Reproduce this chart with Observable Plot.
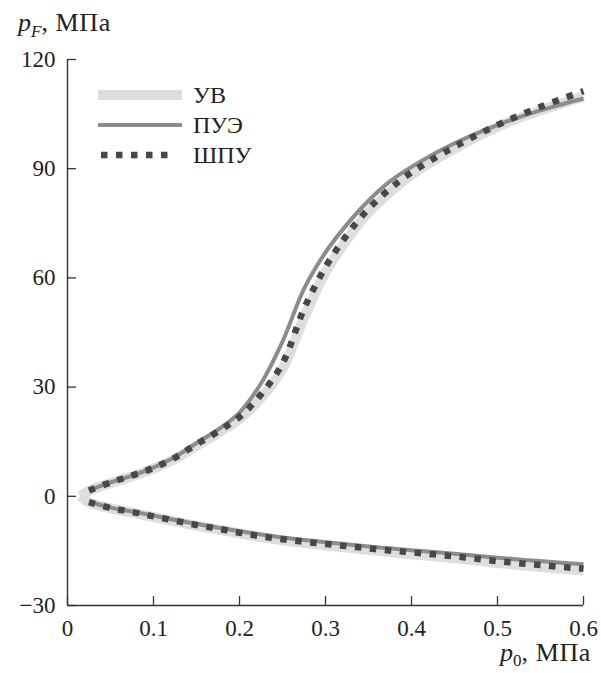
<!DOCTYPE html>
<html><head><meta charset="utf-8">
<script src="https://cdn.jsdelivr.net/npm/d3@7"></script>
<script src="https://cdn.jsdelivr.net/npm/@observablehq/plot@0.6"></script>
<style>body{margin:0;background:#fff} svg{display:block}</style>
</head><body><div id="chart"></div>
<script>
// p0, MPa grid
const p0Grid = [0.025, 0.05, 0.075, 0.1, 0.125, 0.15, 0.175, 0.2, 0.225, 0.25, 0.275, 0.3, 0.325, 0.35, 0.375, 0.4, 0.45, 0.5, 0.55, 0.6];
// vertex of УВ curve
const uvVertexX = 0.015;
const uvVertexY = 0;
// upper branches, pF MPa
const uvUpper   = [1.5, 3.6, 5.5, 7.6, 10.3, 13.9, 17.4, 21.3, 27, 35, 49, 61.5, 70.5, 78, 83.5, 88.3, 95.5, 101.5, 106, 109.8];
const pueUpper  = [1.6, 3.8, 5.7, 7.9, 10.8, 14.6, 18.3, 23, 31, 42.5, 57, 67, 74.7, 81.2, 86.5, 90.5, 97, 102, 106, 109.3];
const shpuUpper = [1.6, 3.8, 5.7, 7.8, 10.6, 14.3, 17.8, 21.8, 28, 36.5, 51.5, 63, 71.8, 79, 84.5, 89, 96, 102, 107, 111.3];
// lower branches
const uvLower   = [-1.7, -3.3, -4.5, -5.7, -6.9, -8.1, -9.1, -10.2, -11.2, -12.1, -12.8, -13.5, -14.1, -14.7, -15.3, -15.9, -17, -18.3, -19.4, -20.4];
const pueLower  = [-1.5, -3.1, -4.2, -5.3, -6.5, -7.6, -8.6, -9.6, -10.5, -11.3, -12, -12.6, -13.2, -13.8, -14.3, -14.8, -15.8, -16.9, -17.8, -18.7];
const shpuLower = [-1.6, -3.2, -4.3, -5.5, -6.7, -7.9, -8.9, -10, -11, -11.8, -12.5, -13.1, -13.7, -14.3, -14.9, -15.4, -16.5, -17.8, -18.9, -19.9];

const seriesNames = ["УВ", "ПУЭ", "ШПУ"];
const xTicks = [0, 0.1, 0.2, 0.3, 0.4, 0.5, 0.6];
const yTicks = [-30, 0, 30, 60, 90, 120];

const styles = {
  "УВ":  {stroke: "#dedede", strokeWidth: 10, dash: null},
  "ПУЭ": {stroke: "#8c8c8c", strokeWidth: 4, dash: null},
  "ШПУ": {stroke: "#474747", strokeWidth: 6.5, dash: "6.5,8.5"}
};

function branch(name, part, ys, vertex) {
  const rows = p0Grid.map((x, i) => ({series: name, part, x, y: ys[i]}));
  if (vertex) rows.unshift({series: name, part, x: uvVertexX, y: uvVertexY});
  return rows;
}
const data = {
  "УВ":  [...branch("УВ", "u", uvUpper, true), ...branch("УВ", "l", uvLower, true)],
  "ПУЭ": [...branch("ПУЭ", "u", pueUpper), ...branch("ПУЭ", "l", pueLower)],
  "ШПУ": [...branch("ШПУ", "u", shpuUpper), ...branch("ШПУ", "l", shpuLower)]
};

const font = "'Liberation Serif', 'Times New Roman', serif";
const fs = 23;
const titleFs = 26;
const fmt = d => (d === 0 ? "0" : String(d).replace("-", "\u2212"));

const lineMarks = seriesNames.map(n => Plot.line(data[n], {
  x: "x", y: "y", z: "part", curve: "catmull-rom",
  stroke: styles[n].stroke, strokeWidth: styles[n].strokeWidth,
  strokeDasharray: styles[n].dash, strokeLinecap: "butt"
}));

const chart = Plot.plot({
  width: 601, height: 673,
  marginLeft: 67, marginRight: 18, marginTop: 59, marginBottom: 68,
  style: {fontFamily: font, fontSize: fs + "px", color: "#222", background: "#fff"},
  x: {domain: [0, 0.6]},
  y: {domain: [-30, 120]},
  marks: [
    ...lineMarks,
    Plot.ruleX([0], {stroke: "#333", strokeWidth: 1.4}),
    Plot.ruleY([-30], {stroke: "#333", strokeWidth: 1.4}),
    Plot.axisX(xTicks, {tickSize: -9, tickFormat: () => "", stroke: "#333", strokeWidth: 1.3, label: null}),
    Plot.axisY(yTicks, {tickSize: -9, tickFormat: () => "", stroke: "#333", strokeWidth: 1.3, label: null}),
    Plot.axisX(xTicks, {tickSize: 0, tickPadding: 14, fontSize: fs, fill: "#222", label: null, tickFormat: fmt, fontFamily: font}),
    Plot.axisY(yTicks, {tickSize: 0, tickPadding: 12, fontSize: fs, fill: "#222", label: null, tickFormat: fmt, fontFamily: font})
  ]
});

const svg = d3.select(chart);
// axis titles
const yt = svg.append("text").attr("x", 18).attr("y", 31).attr("text-anchor", "start").attr("font-size", titleFs).attr("fill", "#222").attr("font-family", font);
yt.append("tspan").attr("font-style", "italic").text("p");
yt.append("tspan").attr("font-style", "italic").attr("font-size", 17).attr("dy", 6).text("F");
yt.append("tspan").attr("dy", -6).attr("letter-spacing", 0.6).text(", МПа");

const xt = svg.append("text").attr("x", 591).attr("y", 661).attr("text-anchor", "end").attr("font-size", titleFs).attr("fill", "#222").attr("font-family", font);
xt.append("tspan").attr("font-style", "italic").text("p");
xt.append("tspan").attr("font-size", 17).attr("dy", 5).text("0");
xt.append("tspan").attr("dy", -5).attr("letter-spacing", 0.6).text(", МПа");

// legend
const legendY = [95, 125, 155];
const lg = svg.append("g");
seriesNames.forEach((n, i) => {
  const s = styles[n];
  lg.append("line").attr("x1", n === "ШПУ" ? 101 : 98).attr("x2", n === "ШПУ" ? 176 : 182)
    .attr("y1", legendY[i]).attr("y2", legendY[i])
    .attr("stroke", s.stroke).attr("stroke-width", s.strokeWidth)
    .attr("stroke-dasharray", s.dash);
  lg.append("text").attr("x", 193).attr("y", legendY[i] + 8).attr("text-anchor", "start").attr("font-size", 24)
    .attr("fill", "#222").attr("font-family", font).text(n);
});

document.getElementById("chart").append(chart);
</script>
</body></html>
